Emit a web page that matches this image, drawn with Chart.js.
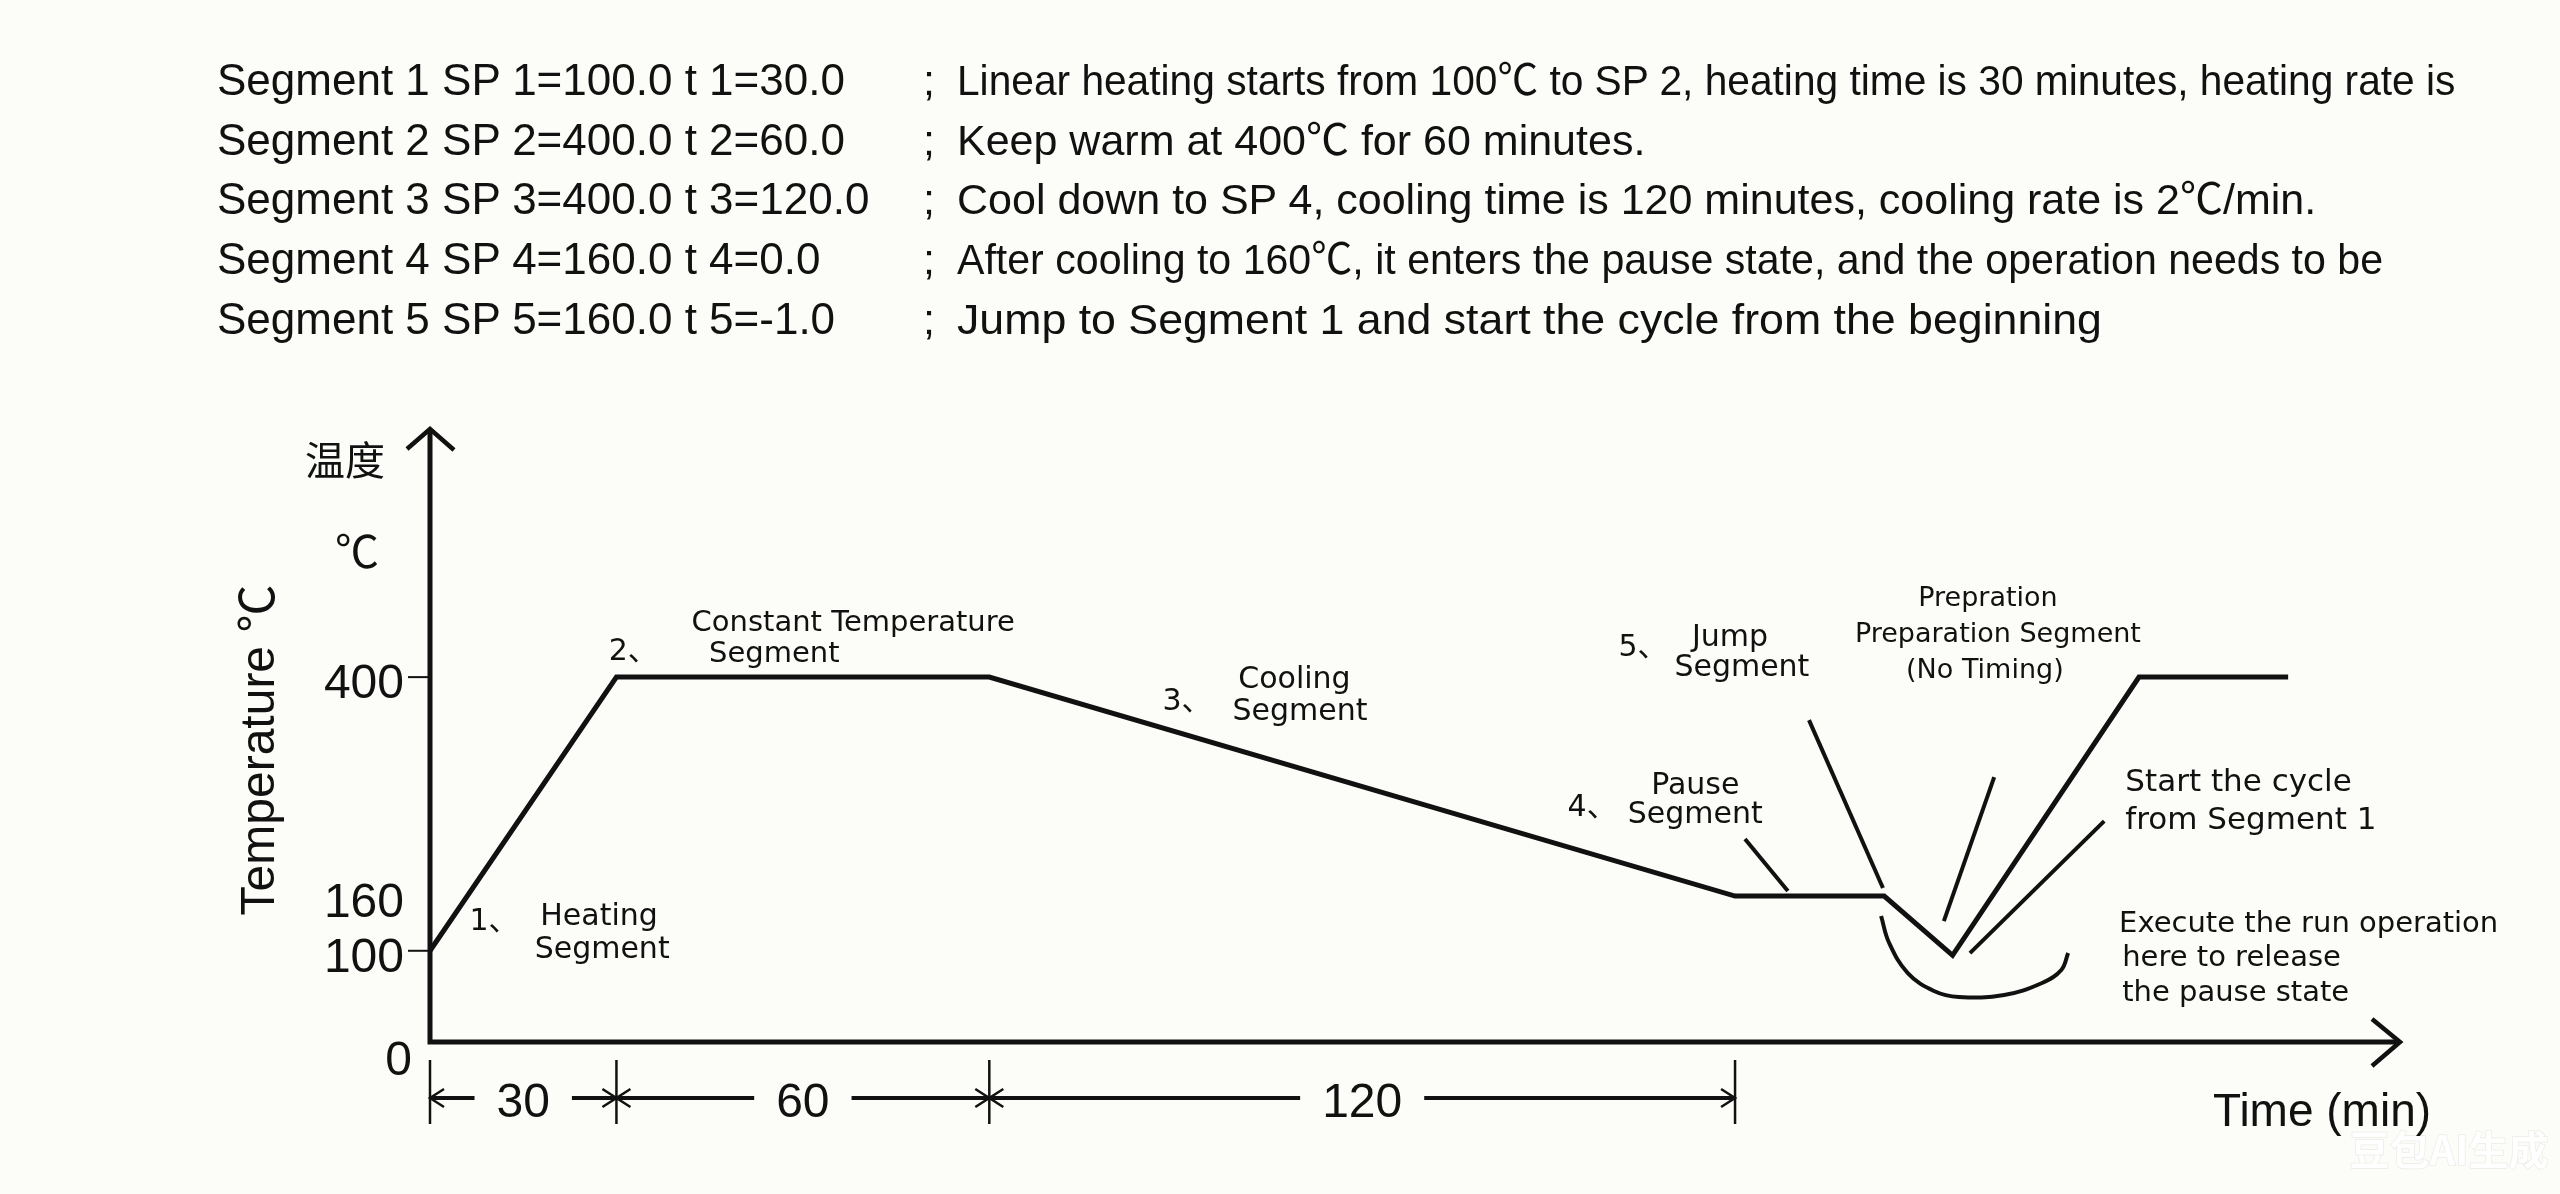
<!DOCTYPE html>
<html><head><meta charset="UTF-8"/>
<title>Segment Program Curve</title>
<script src="https://cdn.jsdelivr.net/npm/chart.js"></script>
<style>
* { margin: 0; padding: 0; box-sizing: border-box; }
body {
    width: 2560px;
    height: 1194px;
    background: #fcfcf8;
    overflow: hidden;
    position: relative;
    font-family: 'Liberation Sans', Arial, 'Noto Sans CJK SC', sans-serif;
    color: #111;
}
#chart { position: absolute; left: 0; top: 0; }
.row { position: absolute; font-size: 43px; line-height: 60px; white-space: nowrap; transform-origin: 0 50%; }
.param { font-size: 44px; }
</style>
</head>
<body>
<canvas id="chart" width="2560" height="1194"></canvas>
<div id="header"></div>

<script>
// program profile (time in min, temperature in ℃)
const profileTime = [0, 30, 90, 210, 234, 245, 275, 299];
const profileTemp = [100, 400, 400, 160, 160, 95, 400, 400];

const yTicks = [0, 100, 160, 400];
const yTickLabels = ['0', '100', '160', '400'];
const yTickMarks = [100, 400];

const stageBounds = [0, 30, 90, 210];
const stageLabels = ['30', '60', '120'];

// leader lines of the notes
const pauseLeaderTime = [211.6, 218.5];
const pauseLeaderTemp = [222.5, 165.5];
const jumpLeaderTime = [221.9, 233.8];
const jumpLeaderTemp = [352.9, 168.8];
const prepLeaderTime = [251.7, 243.6];
const prepLeaderTemp = [290.4, 132.6];
const startLeaderTime = [269.4, 247.8];
const startLeaderTemp = [242.2, 97.5];
const runArcTime = [233.5, 234.8, 237.8, 242.0, 246.0, 253.3, 259.4, 262.5, 263.6];
const runArcTemp = [138.1, 108.5, 75.6, 55.9, 49.3, 51.5, 64.7, 78.9, 97.6];

const segmentParams = [
    'Segment 1 SP 1=100.0 t 1=30.0',
    'Segment 2 SP 2=400.0 t 2=60.0',
    'Segment 3 SP 3=400.0 t 3=120.0',
    'Segment 4 SP 4=160.0 t 4=0.0',
    'Segment 5 SP 5=160.0 t 5=-1.0'
];
const segmentNotes = [
    'Linear heating starts from 100℃ to SP 2, heating time is 30 minutes, heating rate is',
    'Keep warm at 400℃ for 60 minutes.',
    'Cool down to SP 4, cooling time is 120 minutes, cooling rate is 2℃/min.',
    'After cooling to 160℃, it enters the pause state, and the operation needs to be',
    'Jump to Segment 1 and start the cycle from the beginning'
];
// the notes in the picture are not all set at the same width
const noteStretch = [0.946, 1.0, 1.0, 0.956, 1.039];

const ink = '#111111';

// header text
const header = document.getElementById('header');
segmentParams.forEach((p, i) => {
    const top = 50 + i * 59.7;
    header.innerHTML += `
        <div class="row param" style="left:217px;top:${top}px">${p}</div>
        <div class="row" style="left:923px;top:${top}px">;</div>
        <div class="row" style="left:957px;top:${top}px;transform:scaleX(${noteStretch[i]})">${segmentNotes[i]}</div>`;
});

// notes on the curve: [text, time, temp, align, size]
const notes = [
    ['1、', 10.3, 131.5, 'center', 30],
    ['Heating', 27.2, 137, 'center', 30],
    ['Segment', 27.7, 100.9, 'center', 30],
    ['2、', 32.7, 427.5, 'center', 30],
    ['Constant Temperature', 68.1, 459.3, 'center', 29],
    ['Segment', 55.4, 425.3, 'center', 29],
    ['3、', 121.8, 372.7, 'center', 30],
    ['Cooling', 139.1, 396.8, 'center', 30],
    ['Segment', 140.0, 361.8, 'center', 30],
    ['4、', 187.0, 256.5, 'center', 30],
    ['Pause', 203.6, 280.6, 'center', 30],
    ['Segment', 203.6, 248.8, 'center', 30],
    ['5、', 195.2, 431.9, 'center', 30],
    ['Jump', 209.2, 443.0, 'center', 30],
    ['Segment', 211.1, 409.9, 'center', 30],
    ['Prepration', 250.7, 485.6, 'center', 27],
    ['Preparation Segment', 252.3, 446.2, 'center', 27],
    ['(No Timing)', 250.2, 406.7, 'center', 27],
    ['Start the cycle', 272.8, 283.9, 'left', 31],
    ['from Segment 1', 272.8, 242.3, 'left', 31],
    ['Execute the run operation', 271.8, 128.3, 'left', 29],
    ['here to release', 272.3, 92.1, 'left', 29],
    ['the pause state', 272.3, 53.7, 'left', 29]
];

function pts(xs, ys) {
    return xs.map((v, i) => ({ x: v, y: ys[i] }));
}

function arrowHead(ctx, x, y, dir, len, half) {
    ctx.beginPath();
    ctx.moveTo(x - dir * len, y - half);
    ctx.lineTo(x, y);
    ctx.lineTo(x - dir * len, y + half);
    ctx.stroke();
}

const diagram = {
    id: 'diagram',
    beforeDatasetsDraw(chart) {
        const { ctx, chartArea: a, scales: { y } } = chart;
        ctx.save();
        ctx.strokeStyle = ink;
        ctx.fillStyle = ink;
        ctx.lineJoin = 'miter';

        // axes with open arrows
        ctx.lineWidth = 5;
        ctx.beginPath();
        ctx.moveTo(a.left, a.top);
        ctx.lineTo(a.left, a.bottom);
        ctx.lineTo(a.right, a.bottom);
        ctx.stroke();
        ctx.lineWidth = 4.5;
        ctx.beginPath();
        ctx.moveTo(a.left - 23, a.top + 20);
        ctx.lineTo(a.left, a.top);
        ctx.lineTo(a.left + 24, a.top + 21);
        ctx.stroke();
        ctx.beginPath();
        ctx.moveTo(a.right - 28, a.bottom - 23);
        ctx.lineTo(a.right, a.bottom);
        ctx.lineTo(a.right - 28, a.bottom + 24);
        ctx.stroke();

        // y ticks
        ctx.lineWidth = 2;
        yTickMarks.forEach(v => {
            const py = y.getPixelForValue(v);
            ctx.beginPath();
            ctx.moveTo(a.left - 22, py);
            ctx.lineTo(a.left, py);
            ctx.stroke();
        });
        ctx.font = '48px "Liberation Sans", Arial';
        ctx.textAlign = 'right';
        ctx.textBaseline = 'middle';
        yTicks.forEach((v, i) => {
            if (v === 0) ctx.fillText(yTickLabels[i], a.left - 18, a.bottom + 20);
            else ctx.fillText(yTickLabels[i], a.left - 26, y.getPixelForValue(v) + 8);
        });
        ctx.restore();
    },
    afterDraw(chart) {
        const { ctx, chartArea: a, scales: { x, y } } = chart;
        ctx.save();
        ctx.strokeStyle = ink;
        ctx.fillStyle = ink;

        // axis titles
        ctx.textAlign = 'center';
        ctx.textBaseline = 'middle';
        ctx.font = '40px "Noto Sans CJK SC"';
        ctx.fillText('温度', a.left - 85, a.top + 31);
        ctx.font = '44px "Liberation Sans", "Noto Sans CJK SC"';
        ctx.fillText('℃', a.left - 73, a.top + 127);
        ctx.save();
        ctx.translate(a.left - 169, a.bottom - 292);
        ctx.rotate(-Math.PI / 2);
        ctx.font = '48px "Liberation Sans", "Noto Sans CJK SC"';
        ctx.fillText('Temperature ℃', 0, 0);
        ctx.restore();
        ctx.textAlign = 'left';
        ctx.font = '46px "Liberation Sans", Arial';
        ctx.fillText('Time (min)', a.right - 187, a.bottom + 71);

        // stage durations under the time axis
        const yd = a.bottom + 56;
        ctx.font = '48px "Liberation Sans", Arial';
        ctx.textAlign = 'center';
        ctx.lineWidth = 2.5;
        stageBounds.forEach(b => {
            const px = x.getPixelForValue(b);
            ctx.beginPath();
            ctx.moveTo(px, a.bottom + 18);
            ctx.lineTo(px, a.bottom + 82);
            ctx.stroke();
        });
        stageLabels.forEach((lab, i) => {
            const x0 = x.getPixelForValue(stageBounds[i]);
            const x1 = x.getPixelForValue(stageBounds[i + 1]);
            const mid = (x0 + x1) / 2;
            const gap = ctx.measureText(lab).width / 2 + 22;
            ctx.lineWidth = 4;
            ctx.beginPath();
            ctx.moveTo(x0, yd);
            ctx.lineTo(mid - gap, yd);
            ctx.moveTo(mid + gap, yd);
            ctx.lineTo(x1, yd);
            ctx.stroke();
            ctx.lineWidth = 2.5;
            arrowHead(ctx, x0, yd, -1, 14, 9);
            arrowHead(ctx, x1, yd, 1, 14, 9);
            ctx.fillText(lab, mid, yd + 6);
        });

        // notes
        notes.forEach(([text, t, T, align, size]) => {
            ctx.font = `${size}px "DejaVu Sans", "Noto Sans CJK SC"`;
            ctx.textAlign = align;
            ctx.fillText(text, x.getPixelForValue(t), y.getPixelForValue(T));
        });

        // faint mark
        ctx.font = 'bold 40px "Noto Sans CJK SC"';
        ctx.textAlign = 'center';
        ctx.fillStyle = 'rgba(255,255,255,0.9)';
        ctx.strokeStyle = 'rgba(0,0,0,0.07)';
        ctx.lineWidth = 1.5;
        ctx.strokeText('豆包AI生成', 2449, 1150);
        ctx.fillText('豆包AI生成', 2449, 1150);
        ctx.restore();
    }
};

function line(data, width, tension) {
    return {
        data: data,
        borderColor: ink,
        borderWidth: width,
        pointRadius: 0,
        tension: tension || 0,
        borderJoinStyle: 'miter',
        fill: false,
        clip: false
    };
}

new Chart(document.getElementById('chart'), {
    type: 'line',
    data: {
        datasets: [
            line(pts(profileTime, profileTemp), 5),
            line(pts(pauseLeaderTime, pauseLeaderTemp), 4),
            line(pts(jumpLeaderTime, jumpLeaderTemp), 4),
            line(pts(prepLeaderTime, prepLeaderTemp), 4),
            line(pts(startLeaderTime, startLeaderTemp), 4),
            line(pts(runArcTime, runArcTemp), 4, 0.4)
        ]
    },
    options: {
        responsive: false,
        animation: false,
        devicePixelRatio: 1,
        layout: { padding: { left: 430, right: 160, top: 429, bottom: 152 } },
        plugins: { legend: { display: false }, tooltip: { enabled: false } },
        scales: {
            x: { type: 'linear', min: 0, max: 317, display: false },
            y: { type: 'linear', min: 0, max: 672, display: false }
        }
    },
    plugins: [diagram]
});
</script>
</body></html>
